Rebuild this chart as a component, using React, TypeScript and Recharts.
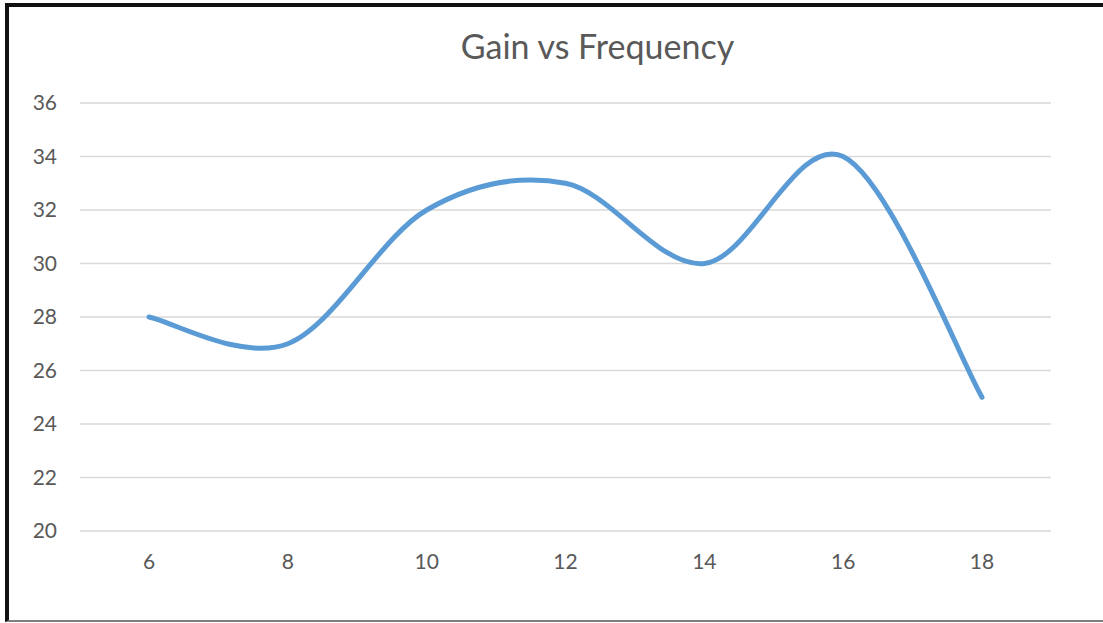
import { CartesianGrid, Line, LineChart, XAxis, YAxis } from "recharts";

const FREQUENCIES = ["6", "8", "10", "12", "14", "16", "18"];
const GAIN = [28, 27, 32, 33, 30, 34, 25];
const GAIN_TICKS = [20, 22, 24, 26, 28, 30, 32, 34, 36];

const data = FREQUENCIES.map((f, i) => ({ freq: f, gain: GAIN[i] }));

// smoothed line like the spreadsheet one (catmull-rom style bezier)
// eslint-disable-next-line @typescript-eslint/no-explicit-any
function smoothCurve(context: any) {
  let pts: number[][] = [];
  return {
    areaStart() {},
    areaEnd() {},
    lineStart() {
      pts = [];
    },
    point(x: number, y: number) {
      pts.push([+x, +y]);
    },
    lineEnd() {
      if (!pts.length) return;
      context.moveTo(pts[0][0], pts[0][1]);
      for (let i = 0; i < pts.length - 1; i++) {
        const p0 = pts[i - 1] || pts[i];
        const p1 = pts[i];
        const p2 = pts[i + 1];
        const p3 = pts[i + 2] || pts[i + 1];
        context.bezierCurveTo(
          p1[0] + (p2[0] - p0[0]) / 6,
          p1[1] + (p2[1] - p0[1]) / 6,
          p2[0] - (p3[0] - p1[0]) / 6,
          p2[1] - (p3[1] - p1[1]) / 6,
          p2[0],
          p2[1]
        );
      }
    },
  };
}

const tickStyle = { fontSize: 21, fill: "#595959", fontFamily: "Lato, 'Open Sans', sans-serif" };

export default function App() {
  return (
    <div style={{ position: "absolute", left: 0, top: 0, width: 1103, height: 623, background: "#fff" }}>
      <div
        style={{
          position: "absolute",
          left: 5,
          top: 3,
          width: 1098,
          height: 619,
          borderTop: "4px solid #111",
          borderLeft: "4px solid #111",
          borderBottom: "2px solid #7f7f7f",
          boxSizing: "border-box",
        }}
      />
      <div
        style={{
          position: "absolute",
          left: 0,
          width: 1195,
          top: 26,
          lineHeight: "40px",
          textAlign: "center",
          fontFamily: "Lato, 'Open Sans', sans-serif",
          fontSize: 34,
          color: "#595959",
        }}
      >
        Gain vs Frequency
      </div>
      <div style={{ position: "absolute", left: 0, top: 0 }}>
        <LineChart width={1103} height={623} data={data} margin={{ top: 103, right: 52, left: 20, bottom: 52 }}>
          <CartesianGrid horizontal vertical={false} stroke="#d9d9d9" strokeWidth={1.5} />
          <XAxis
            dataKey="freq"
            axisLine={false}
            tickLine={false}
            tickSize={0}
            tickMargin={23}
            height={40}
            padding={{ left: 69, right: 69 }}
            tick={tickStyle}
          />
          <YAxis
            domain={[20, 36]}
            ticks={GAIN_TICKS}
            axisLine={false}
            tickLine={false}
            tickSize={0}
            tickMargin={23}
            width={60}
            tick={tickStyle}
          />
          <Line
            dataKey="gain"
            type={smoothCurve}
            stroke="#5b9bd5"
            strokeWidth={5}
            strokeLinecap="round"
            dot={false}
            activeDot={false}
            isAnimationActive={false}
          />
        </LineChart>
      </div>
    </div>
  );
}
